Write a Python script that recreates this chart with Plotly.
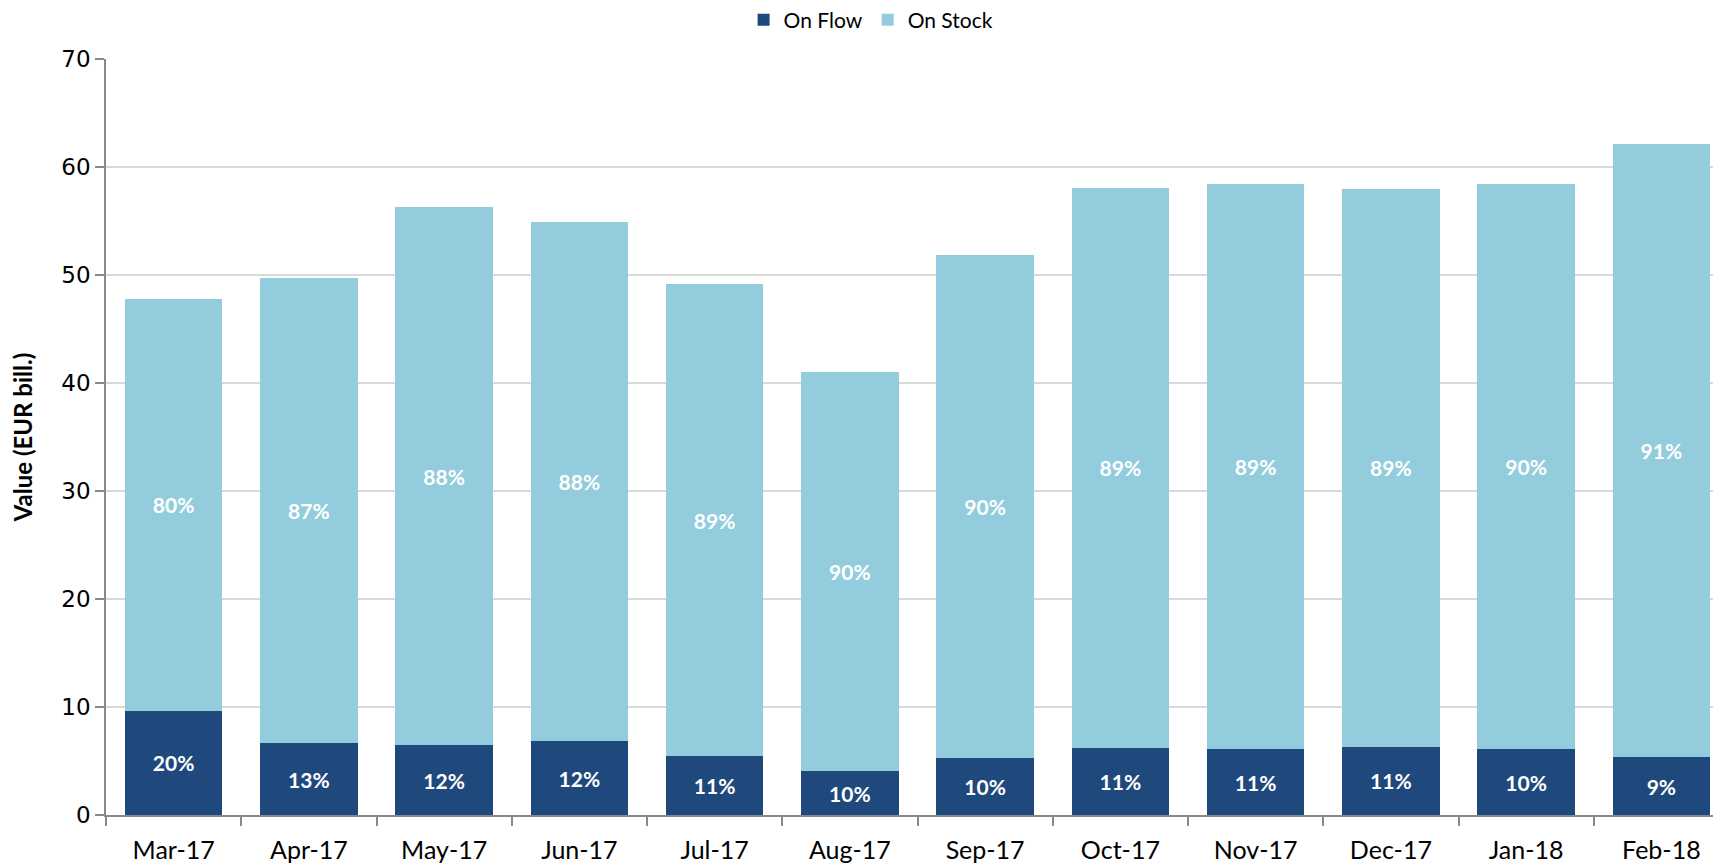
import plotly.graph_objects as go

months = ["Mar-17", "Apr-17", "May-17", "Jun-17", "Jul-17", "Aug-17",
          "Sep-17", "Oct-17", "Nov-17", "Dec-17", "Jan-18", "Feb-18"]
on_flow = [9.65, 6.65, 6.46, 6.82, 5.5, 4.07, 5.29, 6.2, 6.1, 6.33, 6.09, 5.37]
totals = [47.8, 49.75, 56.26, 54.93, 49.13, 41.0, 51.88, 58.09, 58.39, 57.99, 58.39, 62.16]
on_stock = [round(t - f, 2) for t, f in zip(totals, on_flow)]
flow_labels = ["20%", "13%", "12%", "12%", "11%", "10%", "10%", "11%", "11%", "11%", "10%", "9%"]
stock_labels = ["80%", "87%", "88%", "88%", "89%", "90%", "90%", "89%", "89%", "89%", "90%", "91%"]

DARK = "#1F497D"
LIGHT = "#93CDDD"
FONT = "Lato, 'Open Sans', sans-serif"

fig = go.Figure()
fig.add_trace(go.Bar(
    x=months, y=on_flow, name="On Flow", marker=dict(color=DARK, line=dict(width=0)),
    text=flow_labels, textposition="inside", insidetextanchor="middle",
    textfont=dict(color="white", size=21, family=FONT, weight="bold"),
    hoverinfo="x+y+name",
))
fig.add_trace(go.Bar(
    x=months, y=on_stock, name="On Stock", marker=dict(color=LIGHT, line=dict(width=0)),
    text=stock_labels, textposition="inside", insidetextanchor="middle",
    textfont=dict(color="white", size=21, family=FONT, weight="bold"),
    hoverinfo="x+y+name",
))

fig.update_layout(
    barmode="stack",
    bargap=0.28,
    width=1721, height=856,
    margin=dict(l=98, r=0, t=51, b=49),
    plot_bgcolor="white", paper_bgcolor="white",
    font=dict(family=FONT, size=22, color="black"),
    legend=dict(orientation="h", xref="container", yref="container",
                x=0.5015, xanchor="center", y=0.986, yanchor="middle",
                font=dict(size=21, family=FONT), traceorder="normal",
                tracegroupgap=0),
    showlegend=True,
)
fig.update_xaxes(
    showline=True, linecolor="#898989", linewidth=1.5,
    ticks="outside", tickson="boundaries", ticklen=9, tickcolor="#898989", tickwidth=1.5,
    tickfont=dict(size=25, family=FONT), ticklabelstandoff=12, showgrid=False,
    automargin=False,
)
fig.update_yaxes(
    range=[0, 70], dtick=10, showline=True, linecolor="#898989", linewidth=1.5,
    ticks="outside", ticklen=9, tickcolor="#898989", tickwidth=1.5,
    showgrid=True, gridcolor="#D9D9D9", gridwidth=1.5,
    tickfont=dict(size=23, family="DejaVu Sans"),
    title=dict(text="<b>Value (EUR bill.)</b>", font=dict(size=24, family=FONT), standoff=30),
    zeroline=False, automargin=False,
)

fig.write_html("out.html")
